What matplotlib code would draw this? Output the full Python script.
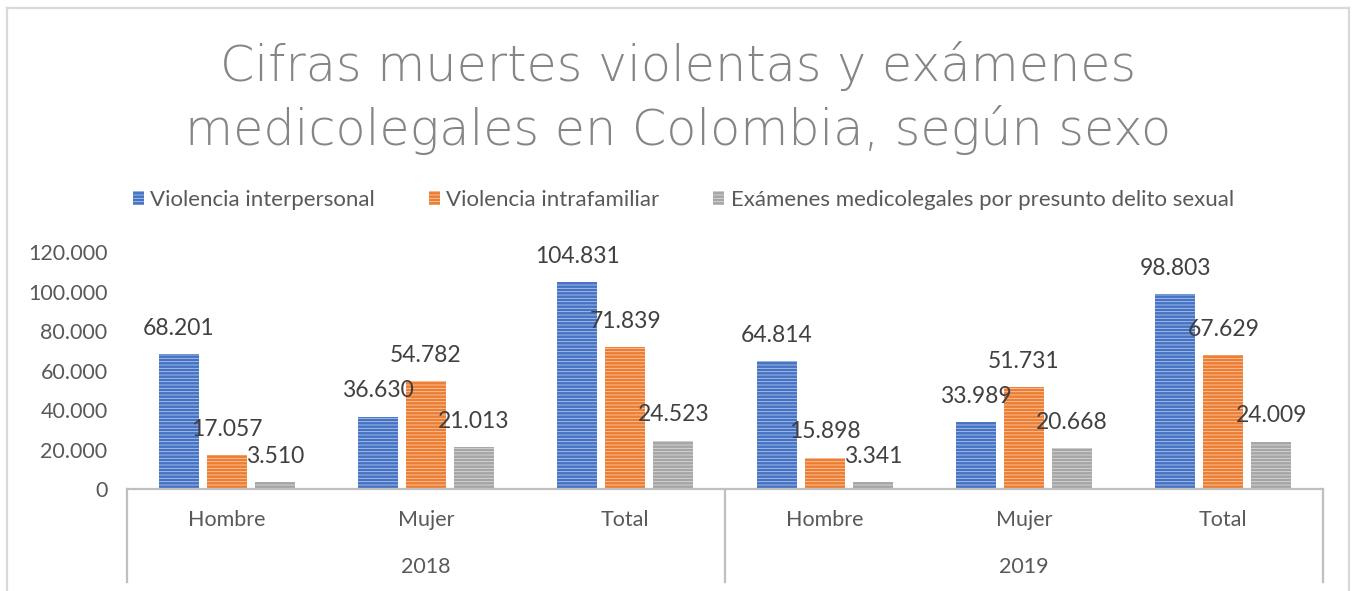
import matplotlib
matplotlib.use("Agg")
import matplotlib.pyplot as plt
from matplotlib.patches import Patch
from matplotlib.lines import Line2D
import matplotlib.transforms as mtransforms

# ---- data ----
years = ["2018", "2019"]
categories = ["Hombre", "Mujer", "Total", "Hombre", "Mujer", "Total"]
series_names = ["Violencia interpersonal", "Violencia intrafamiliar",
                "Exámenes medicolegales por presunto delito sexual"]
interpersonal = [68201, 36630, 104831, 64814, 33989, 98803]
intrafamiliar = [17057, 54782, 71839, 15898, 51731, 67629]
sexual = [3510, 21013, 24523, 3341, 20668, 24009]
yticks = [0, 20000, 40000, 60000, 80000, 100000, 120000]
title = "Cifras muertes violentas y exámenes\nmedicolegales en Colombia, según sexo"

colors = ["#4472C4", "#ED7D31", "#A5A5A5"]
stripes = ["#B4C7E7", "#F8CBAD", "#DBDBDB"]

def fmt(v):
    return f"{v:,}".replace(",", ".")

plt.rcParams["font.family"] = ["Lato", "DejaVu Sans"]
plt.rcParams["hatch.linewidth"] = 0.6

W, H = 1353, 591
fig = plt.figure(figsize=(W / 100, H / 100), dpi=100)
ax = fig.add_axes([127 / W, 1 - 489 / H, (1323 - 127) / W, (489 - 252) / H])

n = len(categories)
xs = [i + 0.5 for i in range(n)]
offs = [-0.241, 0.0, 0.241]
bw = 0.2
allseries = [interpersonal, intrafamiliar, sexual]
for s, vals in enumerate(allseries):
    pos = [x + offs[s] for x in xs]
    ax.bar(pos, vals, width=bw, color=colors[s], edgecolor=stripes[s],
           linewidth=0, hatch="-----", zorder=2)
    for p, v in zip(pos, vals):
        ax.annotate(fmt(v), (p, v), xytext=(0, 18.5), textcoords="offset points",
                    ha="center", va="center", fontsize=16.5, color="#404040",
                    zorder=3)

ax.set_xlim(0, n)
ax.set_ylim(0, 120000)
ax.set_yticks(yticks)
ax.set_yticklabels([fmt(v) for v in yticks])
ax.tick_params(axis="y", length=0, pad=14, labelsize=15.5, labelcolor="#595959")
ax.set_xticks([])
for sp in ["top", "right", "left"]:
    ax.spines[sp].set_visible(False)
ax.spines["bottom"].set_color("#BFBFBF")
ax.spines["bottom"].set_linewidth(1.6)

# multi-level category axis
trans = mtransforms.blended_transform_factory(ax.transData, ax.transAxes)
for xv in [0, 3, 6]:
    ax.add_line(Line2D([xv, xv], [0, -0.392], transform=trans, color="#BFBFBF",
                       lw=1.6, clip_on=False))
for x, c in zip(xs, categories):
    ax.text(x, -0.131, c, transform=trans, ha="center", va="center",
            fontsize=15.5, color="#595959")
for i, y in enumerate(years):
    ax.text(1.5 + 3 * i, -0.329, y, transform=trans, ha="center", va="center",
            fontsize=15.5, color="#595959")

# title
fig.text(0.501, 1 - 98 / H, title, ha="center", va="center", fontsize=35.5,
         family=["DejaVu Sans"], fontweight="light", color="#858585",
         linespacing=1.34)

# legend
handles = [Patch(facecolor=colors[i], edgecolor=stripes[i], hatch="-----",
                 linewidth=0) for i in range(3)]
fig.legend(handles, series_names, loc="center", bbox_to_anchor=(0.505, 1 - 200 / H),
           ncol=3, frameon=False, fontsize=16, handlelength=0.5, handleheight=0.55,
           handletextpad=0.3, columnspacing=2.4, labelcolor="#595959")

# outer frame
fc = "#D9D9D9"
fig.add_artist(Line2D([7 / W, 7 / W], [0, 1 - 8 / H], color=fc, lw=1.6))
fig.add_artist(Line2D([7 / W, 1349 / W], [1 - 8 / H, 1 - 8 / H], color=fc, lw=1.6))
fig.add_artist(Line2D([1349 / W, 1349 / W], [0, 1 - 8 / H], color=fc, lw=1.6))

fig.savefig("out.png", dpi=100, facecolor="white")
